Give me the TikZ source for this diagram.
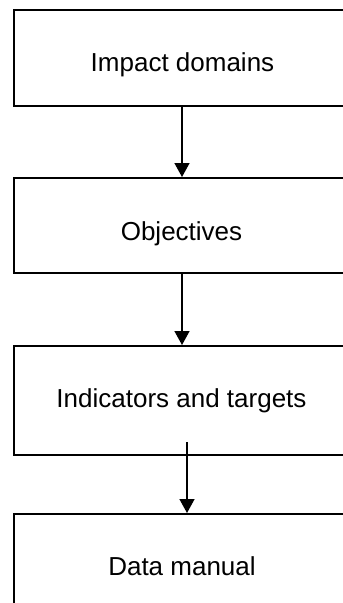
\documentclass[tikz,border=0pt]{standalone}
\usepackage{fontspec}
\setmainfont{Liberation Sans}
\usetikzlibrary{arrows.meta}
\begin{document}
\begin{tikzpicture}[x=1pt,y=-1pt,
  box/.style={draw=black, line width=2pt, rectangle, inner sep=0pt, minimum width=338pt},
  lbl/.style={font=\fontsize{26}{30}\selectfont, inner sep=0pt, text height=18.6pt, text depth=0pt},
  arrow/.style={-{Triangle[width=15pt,length=14pt]}, line width=1.5pt}]
\useasboundingbox (0,0) rectangle (343,603);
\clip (0,0) rectangle (343,603);
\node[box, minimum height=96pt] (b1) at (183,58) {};
\node[box, minimum height=95.3pt] (b2) at (183,225.65) {};
\node[box, minimum height=109.3pt] (b3) at (183,400.65) {};
\node[box, minimum height=106pt] (b4) at (183,567) {};
\node[lbl] (t1) at (182.5,62) {Impact domains};
\node[lbl] (t2) at (181.5,231) {Objectives};
\node[lbl] (t3) at (181.5,398) {Indicators and targets};
\node[lbl] (t4) at (182,566) {Data manual};
\coordinate (c1) at (182,0);
\coordinate (c3) at (187,442);
\draw[arrow] (b1.south -| c1) -- (b2.north -| c1);
\draw[arrow] (b2.south -| c1) -- (b3.north -| c1);
\draw[arrow] (c3) -- (b4.north -| c3);
\end{tikzpicture}
\end{document}
